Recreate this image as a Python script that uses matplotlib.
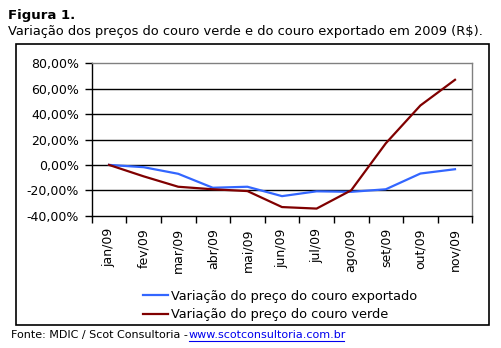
import matplotlib
matplotlib.use("Agg")
import matplotlib.pyplot as plt
from matplotlib.patches import Rectangle
from matplotlib.ticker import FixedLocator, NullFormatter

months = ["jan/09", "fev/09", "mar/09", "abr/09", "mai/09", "jun/09",
          "jul/09", "ago/09", "set/09", "out/09", "nov/09"]
exportado = [0.0, -1.8, -7.0, -18.0, -17.2, -24.6, -20.8, -21.2, -19.2, -6.8, -3.4]
verde = [0.0, -9.0, -17.2, -19.2, -20.6, -33.2, -34.4, -20.0, 17.0, 46.8, 67.0]
yticks = [80, 60, 40, 20, 0, -20, -40]
ytick_labels = ["80,00%", "60,00%", "40,00%", "20,00%", "0,00%", "-20,00%", "-40,00%"]
label_exp = "Variação do preço do couro exportado"
label_verde = "Variação do preço do couro verde"

W, H = 501, 348
fig = plt.figure(figsize=(W / 100, H / 100), dpi=100)
plt.rcParams['font.family'] = ['DejaVu Sans']

def fx(x):
    return x / W

def fy(y):
    return 1 - y / H

# outer chart box
fig.patches.append(Rectangle((fx(15.7), fy(324.5)), fx(489.3 - 15.7), (324.5 - 44) / H,
                             transform=fig.transFigure, fill=False, edgecolor="black",
                             linewidth=1.2))

# titles
fig.text(fx(8), fy(15), "Figura 1.", fontsize=9.5, fontweight="bold", va="center", ha="left")
fig.text(fx(8), fy(31), "Variação dos preços do couro verde e do couro exportado em 2009 (R$).",
         fontsize=9.4, va="center", ha="left")

ax = fig.add_axes([fx(91.7), fy(215.7), fx(472.3 - 91.7), (215.7 - 63.3) / H])
x = list(range(len(months)))
ax.plot(x, exportado, color="#3366FF", linewidth=1.6, label=label_exp)
ax.plot(x, verde, color="#800000", linewidth=1.6, label=label_verde)

ax.set_xlim(-0.5, len(months) - 0.5)
ax.set_ylim(-40, 80)
ax.set_yticks(yticks)
ax.set_yticklabels(ytick_labels, fontsize=9)
for g in [60, 40, 20, 0, -20]:
    ax.axhline(g, color="black", linewidth=1.0, zorder=0)

ax.xaxis.set_major_locator(FixedLocator([i - 0.5 for i in range(len(months) + 1)]))
ax.xaxis.set_major_formatter(NullFormatter())
ax.xaxis.set_minor_locator(FixedLocator(x))
ax.set_xticklabels(months, minor=True, rotation=90, fontsize=9)
ax.tick_params(axis="x", which="minor", length=0, pad=9)
ax.tick_params(axis="x", which="major", length=5, direction="out", width=1)
ax.tick_params(axis="y", length=5, direction="out", width=1, pad=4)

for s in ["top", "right"]:
    ax.spines[s].set_color("#808080")
    ax.spines[s].set_linewidth(1.0)
for s in ["left", "bottom"]:
    ax.spines[s].set_color("black")
    ax.spines[s].set_linewidth(1.0)

leg = fig.legend(loc="upper left", bbox_to_anchor=(fx(143), fy(290)), frameon=False,
                 fontsize=9.3, handlelength=1.9, handletextpad=0.3, labelspacing=0.4,
                 borderaxespad=0, borderpad=0)

fig.text(fx(11), fy(335), "Fonte: MDIC / Scot Consultoria - ", fontsize=8, va="center", ha="left")
fig.text(fx(189), fy(335), "www.scotconsultoria.com.br", fontsize=8, va="center", ha="left",
         color="#0000EE")
fig.add_artist(plt.Line2D([fx(189), fx(344)], [fy(341), fy(341)], color="#0000EE",
                          linewidth=0.8, transform=fig.transFigure))

fig.savefig("out.png", dpi=100)
